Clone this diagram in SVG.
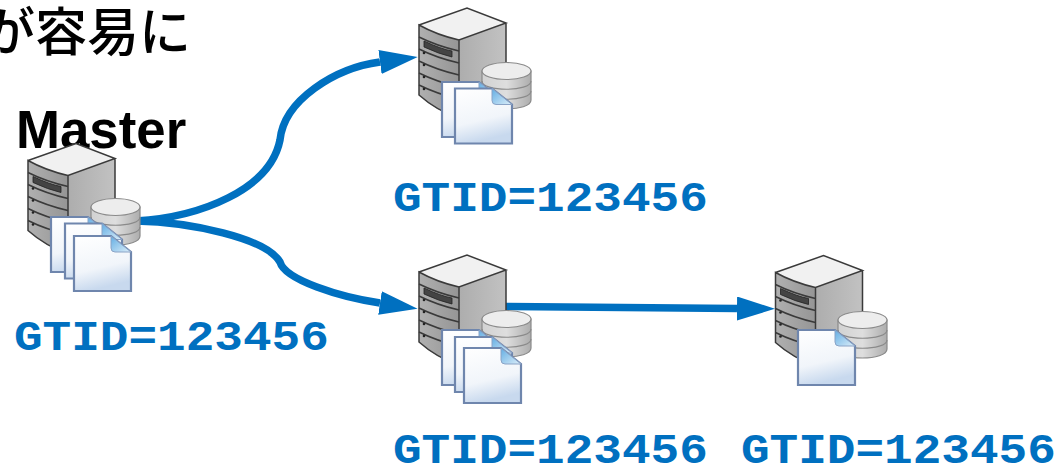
<svg xmlns="http://www.w3.org/2000/svg" width="1059" height="465" viewBox="0 0 1059 465">
<style>
.gtid{font-family:"Liberation Mono",monospace;font-weight:700;font-size:47.7px;fill:#0070c0}
.conn{fill:none;stroke:#0070c0;stroke-width:7.500}
.dk{fill:none;stroke:#3a3a3a;stroke-width:1.5}
.doc{fill:url(#docg);stroke:#6f86ad;stroke-width:2.2}
.fold{fill:url(#foldg);stroke:#8aa3c6;stroke-width:1}
</style>
<defs>
<marker id="ah" markerUnits="userSpaceOnUse" markerWidth="40" markerHeight="26" refX="0" refY="12" orient="auto"><path d="M0 0L38 12L0 24Z" fill="#0070c0"/></marker>
<linearGradient id="sideg" x1="0" y1="0" x2="1" y2="0"><stop offset="0" stop-color="#adadad"/><stop offset="1" stop-color="#c2c2c2"/></linearGradient>
<linearGradient id="frontg" x1="0" y1="0" x2="1" y2="0"><stop offset="0" stop-color="#b0b0b0"/><stop offset="1" stop-color="#959595"/></linearGradient>
<linearGradient id="dbg" x1="0" y1="0" x2="1" y2="0"><stop offset="0" stop-color="#d2d2d2"/><stop offset=".5" stop-color="#dedede"/><stop offset="1" stop-color="#adadad"/></linearGradient>
<linearGradient id="docg" x1="0" y1="0" x2="0.25" y2="1"><stop offset="0" stop-color="#ffffff"/><stop offset=".65" stop-color="#f1f5fa"/><stop offset="1" stop-color="#c8d9ee"/></linearGradient>
<linearGradient id="foldg" x1="0" y1="0" x2="1" y2="1"><stop offset="0" stop-color="#62ade3"/><stop offset="1" stop-color="#dceef9"/></linearGradient>
<g id="srv">
<path d="M40 32L87 15V91L40 110Z" fill="url(#sideg)"/>
<path d="M0 17Q18 27 40 32V110Q18 104 0 87Z" fill="url(#frontg)"/>
<path d="M0 17L48 0L87 15L40 32Q18 27 0 17Z" fill="#f1f1f1"/>
<path class="dk" d="M0 17L48 0L87 15L40 32Q18 27 0 17V87Q18 103 40 110V32M87 15V91L40 110"/>
<path class="dk" d="M0 29Q18 38 40 43M0 41Q18 50 40 55M0 53Q18 62 40 67M0 65Q18 74 40 79M0 77Q18 86 40 91"/>
<path d="M5 33Q22 41 33 43V49Q20 46 5 39Z" fill="#444" stroke="#222" stroke-width=".8"/>
<circle cx="5" cy="45" r="1.3" fill="#222"/><circle cx="5" cy="57" r="1.3" fill="#222"/><circle cx="5" cy="69" r="1.3" fill="#222"/><circle cx="5" cy="81" r="1.3" fill="#222"/>
</g>
<g id="db">
<path d="M0 9V38C0 50 49 50 49 38V9Z" fill="url(#dbg)" stroke="#8a8a8a" stroke-width="1.2"/>
<ellipse cx="24.500" cy="9" rx="24.500" ry="8.500" fill="#ededed" stroke="#8a8a8a" stroke-width="1.200"/>
<path d="M0 19C0 30 49 30 49 19M0 29C0 40 49 40 49 29" fill="none" stroke="#8a8a8a" stroke-width="1.200"/>
</g>
<g id="doc">
<path class="doc" d="M0 0H37L57 16V55H0Z"/>
<path class="fold" d="M37 0L57 16H41Q37 16 37 12Z"/>
</g>
</defs>
<text x="-17" y="51" font-size="52" font-weight="500" font-family="'Noto Sans CJK JP',sans-serif" fill="#000">が容易に</text>
<text id="label-master" x="16" y="148" font-size="52.800" font-weight="700" font-family="'Liberation Sans',Arial,sans-serif" fill="#000">Master</text>
<g id="connectors">
<path class="conn" marker-end="url(#ah)" d="M136 221C200 217 270 190 280 140C284 100 335 68 380 62"/>
<path class="conn" marker-end="url(#ah)" d="M136 221C190 222 266 238 280 262C285 280 340 297 380 303"/>
<path class="conn" marker-end="url(#ah)" d="M505 306.500L737 308.500"/>
</g>
<g id="node-master">
<use href="#srv" x="28" y="143.500"/><use href="#db" x="91" y="198"/>
<use href="#doc" x="51" y="217"/><use href="#doc" x="65" y="223.500"/><use href="#doc" x="74" y="236"/>
<text class="gtid" transform="translate(14 350) scale(1 .9)">GTID=123456</text>
</g>
<g id="node-top">
<use href="#srv" x="419" y="8"/><use href="#db" x="482" y="62"/>
<use href="#doc" x="442" y="82"/><use href="#doc" x="455" y="88.500"/>
<text class="gtid" transform="translate(393 210.500) scale(1 .9)">GTID=123456</text>
</g>
<g id="node-mid">
<use href="#srv" x="419" y="255"/><use href="#db" x="482" y="310"/>
<use href="#doc" x="442" y="330"/><use href="#doc" x="455" y="337"/><use href="#doc" x="464" y="348"/>
<text class="gtid" transform="translate(393 462.500) scale(1 .9)">GTID=123456</text>
</g>
<g id="node-right">
<use href="#srv" x="775.500" y="255.500"/><use href="#db" x="838" y="311"/>
<use href="#doc" x="798" y="330"/>
<text class="gtid" transform="translate(741 462.500) scale(1 .9)">GTID=123456</text>
</g>
</svg>
